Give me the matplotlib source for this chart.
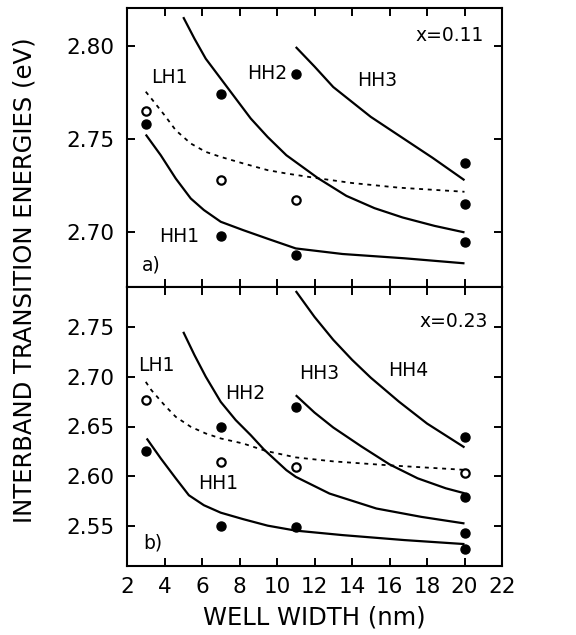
import numpy as np
import matplotlib
matplotlib.use("Agg")
import matplotlib.pyplot as plt

# ---- panel a) x=0.11 ----
hh1_a_x = [3.0, 3.8, 4.6, 5.4, 6.1, 7.0, 8.2, 9.5, 11.0, 13.5, 16.8, 20.0]
hh1_a_y = [2.7525, 2.7414, 2.7289, 2.7182, 2.7120, 2.7057, 2.7012, 2.6966, 2.6914, 2.6884, 2.6861, 2.6834]
hh2_a_x = [5.0, 5.6, 6.2, 7.0, 7.8, 8.6, 9.5, 10.5, 12.2, 13.7, 15.2, 16.7, 18.4, 20.0]
hh2_a_y = [2.8155, 2.8039, 2.7932, 2.7825, 2.7718, 2.7611, 2.7512, 2.7414, 2.7290, 2.7196, 2.7130, 2.7080, 2.7035, 2.7000]
hh3_a_x = [11.0, 12.0, 13.0, 14.0, 15.0, 16.5, 18.3, 20.0]
hh3_a_y = [2.7995, 2.7890, 2.7780, 2.7700, 2.7620, 2.7520, 2.7400, 2.7280]
lh1_a_x = [3.0, 3.3, 4.0, 4.6, 5.4, 6.2, 7.0, 8.2, 9.5, 10.5, 12.2, 14.0, 16.5, 20.0]
lh1_a_y = [2.7755, 2.7718, 2.7629, 2.7548, 2.7477, 2.7432, 2.7405, 2.7370, 2.7334, 2.7316, 2.7290, 2.7265, 2.7240, 2.7218]
fill_a_x = [3, 7, 7, 11, 11, 20, 20, 20]
fill_a_y = [2.758, 2.774, 2.698, 2.785, 2.688, 2.7375, 2.715, 2.695]
open_a_x = [3, 7, 11]
open_a_y = [2.765, 2.728, 2.7174]

# ---- panel b) x=0.23 ----
hh1_b_x = [3.05, 3.8, 4.6, 5.3, 6.1, 7.0, 8.2, 9.5, 11.0, 13.5, 16.8, 20.0]
hh1_b_y = [2.638, 2.618, 2.598, 2.581, 2.571, 2.5635, 2.557, 2.5505, 2.5455, 2.541, 2.536, 2.532]
hh2_b_x = [5.0, 5.6, 6.2, 7.0, 7.8, 8.6, 9.3, 10.5, 11.0, 12.8, 15.3, 17.7, 20.0]
hh2_b_y = [2.745, 2.7216, 2.700, 2.6747, 2.6564, 2.6413, 2.627, 2.6062, 2.5995, 2.5827, 2.5677, 2.5593, 2.5527]
hh3_b_x = [11.0, 12.0, 13.0, 14.5, 16.0, 17.5, 19.0, 20.0]
hh3_b_y = [2.6814, 2.664, 2.649, 2.630, 2.612, 2.598, 2.588, 2.583]
hh4_b_x = [11.0, 12.0, 13.0, 14.0, 15.0, 16.5, 18.0, 20.0]
hh4_b_y = [2.786, 2.760, 2.737, 2.717, 2.699, 2.675, 2.653, 2.629]
lh1_b_x = [3.0, 3.3, 4.0, 4.6, 5.4, 6.2, 7.0, 8.2, 9.4, 11.0, 13.0, 16.0, 20.0]
lh1_b_y = [2.6948, 2.6865, 2.6714, 2.6597, 2.6497, 2.643, 2.638, 2.6329, 2.6255, 2.619, 2.615, 2.611, 2.6065]
fill_b_x = [3, 7, 7, 11, 11, 20, 20, 20, 20]
fill_b_y = [2.625, 2.6497, 2.550, 2.6697, 2.5493, 2.639, 2.5788, 2.5433, 2.5266]
open_b_x = [3, 7, 11, 20]
open_b_y = [2.677, 2.6145, 2.6092, 2.6035]

x_ticks = [2, 4, 6, 8, 10, 12, 14, 16, 18, 20, 22]
y_ticks_a = [2.70, 2.75, 2.80]
y_ticks_b = [2.55, 2.60, 2.65, 2.70, 2.75]

plt.rcParams["font.family"] = ["DejaVu Sans"]

fig = plt.figure(figsize=(5.76, 6.35), dpi=100)
left, right = 127 / 576, 502 / 576
top, mid, bot = 1 - 8 / 635, 1 - 287 / 635, 1 - 566 / 635
ax_a = fig.add_axes([left, mid, right - left, top - mid])
ax_b = fig.add_axes([left, bot, right - left, mid - bot])

line_kw = dict(color="black", lw=1.6, solid_capstyle="butt", solid_joinstyle="round")
dot_kw = dict(ls="none", marker="o", ms=6.5, color="black")
open_kw = dict(ls="none", marker="o", ms=6, mfc="white", mec="black", mew=1.6)
dash_kw = dict(color="black", lw=1.3, ls=(0, (2.2, 2.6)))

ax_a.plot(hh1_a_x, hh1_a_y, **line_kw)
ax_a.plot(hh2_a_x, hh2_a_y, **line_kw)
ax_a.plot(hh3_a_x, hh3_a_y, **line_kw)
ax_a.plot(lh1_a_x, lh1_a_y, **dash_kw)
ax_a.plot(fill_a_x, fill_a_y, **dot_kw)
ax_a.plot(open_a_x, open_a_y, **open_kw)

ax_b.plot(hh1_b_x, hh1_b_y, **line_kw)
ax_b.plot(hh2_b_x, hh2_b_y, **line_kw)
ax_b.plot(hh3_b_x, hh3_b_y, **line_kw)
ax_b.plot(hh4_b_x, hh4_b_y, **line_kw)
ax_b.plot(lh1_b_x, lh1_b_y, **dash_kw)
ax_b.plot(fill_b_x, fill_b_y, **dot_kw)
ax_b.plot(open_b_x, open_b_y, **open_kw)

lab = dict(fontsize=13.5, ha="center", va="center")
ax_a.text(4.25, 2.783, "LH1", **lab)
ax_a.text(4.8, 2.6977, "HH1", **lab)
ax_a.text(9.5, 2.785, "HH2", **lab)
ax_a.text(15.35, 2.7815, "HH3", **lab)
ax_a.text(3.3, 2.6825, "a)", **lab)
ax_a.text(19.2, 2.8055, "x=0.11", **lab)

ax_b.text(3.56, 2.7115, "LH1", **lab)
ax_b.text(6.87, 2.5928, "HH1", **lab)
ax_b.text(8.28, 2.6831, "HH2", **lab)
ax_b.text(12.25, 2.7032, "HH3", **lab)
ax_b.text(17.0, 2.7065, "HH4", **lab)
ax_b.text(3.4, 2.5326, "b)", **lab)
ax_b.text(19.4, 2.755, "x=0.23", **lab)

for ax in (ax_a, ax_b):
    ax.set_xlim(2, 22)
    ax.set_xticks(x_ticks)
    ax.tick_params(direction="in", top=True, right=True, length=6, width=1.4,
                   labelsize=15.5)
    ax.tick_params(axis="y", pad=9)
    ax.tick_params(axis="x", pad=8)
    for s in ax.spines.values():
        s.set_linewidth(1.5)

ax_a.set_ylim(2.6707, 2.8204)
ax_a.set_yticks(y_ticks_a)
ax_a.set_yticklabels(["%.2f" % v for v in y_ticks_a])
ax_a.tick_params(axis="x", labelbottom=False)

ax_b.set_ylim(2.510, 2.790)
ax_b.set_yticks(y_ticks_b)
ax_b.set_yticklabels(["%.2f" % v for v in y_ticks_b])

fig.text(0.043, 0.559, "INTERBAND TRANSITION ENERGIES (eV)", rotation=90,
         ha="center", va="center", fontsize=17.5)
fig.text(0.545, 0.027, "WELL WIDTH (nm)", ha="center", va="center", fontsize=17.5)

fig.savefig("out.png", dpi=100)
